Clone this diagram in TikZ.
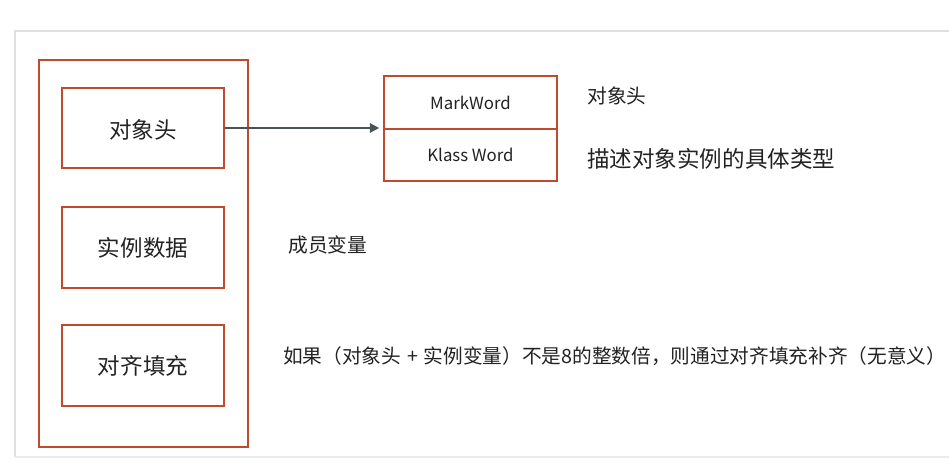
\documentclass[tikz,border=0pt]{standalone}
\usepackage{fontspec}
\setmainfont{Noto Sans CJK SC}
\usetikzlibrary{arrows.meta}
\definecolor{boxred}{HTML}{BE4B2D}
\definecolor{txt}{HTML}{222222}
\definecolor{arr}{HTML}{4A5458}
\tikzset{
  redbox/.style={draw=boxred, line width=2.2pt, inner sep=0pt},
  px/.style={font=\fontsize{#1}{#1}\selectfont, text=txt, inner sep=0pt},
}
\begin{document}
\begin{tikzpicture}[x=0.75pt,y=-0.75pt]
\useasboundingbox (0,0) rectangle (949,463);
% panel
\fill[white] (0,0) rectangle (949,463);
\draw[black!12, line width=2pt] (15,457) -- (15,31) -- (949,31);
\draw[black!8, line width=1.2pt] (15,457) -- (949,457);
% outer box
\node[redbox, minimum width=156.75pt, minimum height=290.25pt] (outer) at (143.5,253.5) {};
\node[redbox, minimum width=121.5pt, minimum height=60pt] (head) at (143,128) {};
\node[redbox, minimum width=121.5pt, minimum height=60.75pt] (data) at (143,247.5) {};
\node[redbox, minimum width=121.5pt, minimum height=60.75pt] (pad) at (143,365.5) {};
\node[px=16.9pt] (headt) at ([yshift=-1.5pt]head.center) {对象头};
\node[px=16.9pt] (datat) at (data.center) {实例数据};
\node[px=16.9pt] (padt) at (pad.center) {对齐填充};
% right box
\node[redbox, minimum width=129.75pt, minimum height=39.75pt] (mark) at (470.5,102.5) {};
\node[redbox, minimum width=129.75pt, minimum height=39pt] (klass) at (470.5,155) {};
\node[px=12.6pt] (markt) at (mark.center) {MarkWord};
\node[px=12.6pt] (klasst) at (klass.center) {Klass Word};
% arrow
\coordinate (tip) at ([xshift=-2.5pt]head.east -| mark.west);
\draw[arr, line width=1.6pt, -{Triangle[length=7pt,width=7pt]}] (head.east) -- (tip);
% labels
\node[px=14.8pt, anchor=west] (l1) at (587,96) {对象头};
\node[px=16.9pt, anchor=west] (l2) at (587,159) {描述对象实例的具体类型};
\node[px=14.8pt, anchor=west] (l3) at (288,245) {成员变量};
\node[px=14.75pt, anchor=west] (l4) at (283,356) {如果（对象头\hspace{0.3em}+\hspace{0.3em}实例变量）不是8的整数倍，则通过对齐填充补齐（无意义）};
\end{tikzpicture}
\end{document}
